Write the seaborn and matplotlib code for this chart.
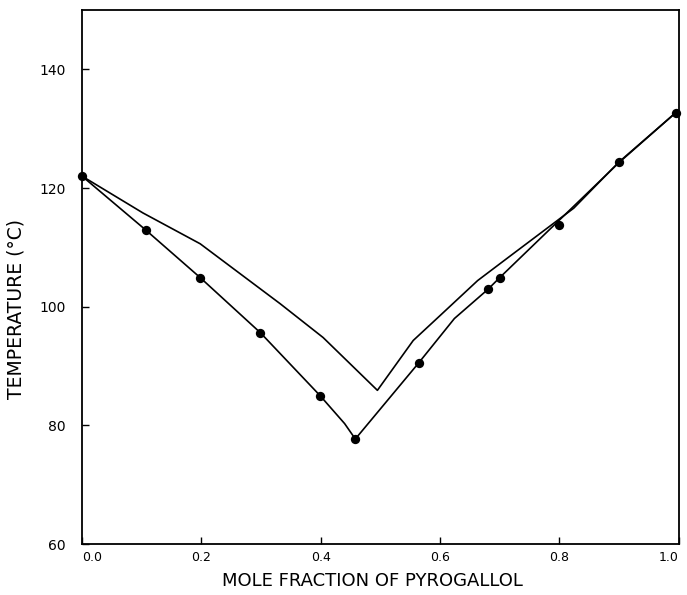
import matplotlib
matplotlib.use("Agg")
import matplotlib.pyplot as plt
import seaborn as sns
import pandas as pd

# Experimental points (mole fraction of pyrogallol, temperature °C)
pt_x = [0.0, 0.107, 0.198, 0.299, 0.399, 0.458, 0.564, 0.680, 0.700, 0.800, 0.900, 0.995]
pt_t = [122.0, 112.9, 104.9, 95.6, 85.0, 77.7, 90.5, 102.9, 104.9, 113.8, 124.3, 132.7]

# Lower curve drawn through the experimental points
low_x = [0.0, 0.107, 0.198, 0.299, 0.399, 0.440, 0.458, 0.564, 0.624, 0.680, 0.700, 0.800, 0.900, 0.995]
low_t = [122.0, 112.9, 104.9, 95.6, 85.0, 80.3, 77.7, 90.5, 98.0, 102.9, 104.9, 114.6, 124.3, 132.7]

# Upper (calculated) curve
up_x = [0.0, 0.102, 0.198, 0.332, 0.404, 0.495, 0.555, 0.600, 0.663, 0.713, 0.824, 0.900, 0.995]
up_t = [122.0, 115.8, 110.6, 100.5, 94.8, 85.9, 94.3, 98.5, 104.4, 108.2, 116.6, 124.4, 132.7]

x_ticks = [0.0, 0.2, 0.4, 0.6, 0.8, 1.0]
x_tick_labels = ["0.0", "0.2", "0.4", "0.6", "0.8", "1.0"]
y_ticks = [60, 80, 100, 120, 140]
y_tick_labels = ["60", "80", "100", "120", "140"]

sns.set_style("ticks")
plt.rcParams['font.family'] = ['DejaVu Sans']

fig = plt.figure(figsize=(6.87, 5.95), dpi=100)
ax = fig.add_axes([0.1194, 0.0857, 0.8686, 0.8975])

pts = pd.DataFrame({"x": pt_x, "t": pt_t})
low = pd.DataFrame({"x": low_x, "t": low_t})
up = pd.DataFrame({"x": up_x, "t": up_t})

sns.lineplot(data=up, x="x", y="t", sort=False, color="black", linewidth=1.2, ax=ax, estimator=None)
sns.lineplot(data=low, x="x", y="t", sort=False, color="black", linewidth=1.2, ax=ax, estimator=None)
sns.scatterplot(data=pts, x="x", y="t", color="black", s=45, edgecolor="black", linewidth=0, ax=ax, zorder=5, clip_on=False)

ax.set_xlim(0.0, 1.0)
ax.set_ylim(60, 150)
ax.set_xticks(x_ticks)
ax.set_xticklabels(x_tick_labels, fontsize=9)
ax.set_yticks(y_ticks)
ax.set_yticklabels(y_tick_labels, fontsize=10)
ax.tick_params(direction="in", length=5, width=1, colors="black")
ax.tick_params(axis="x", pad=5)
ax.tick_params(axis="y", pad=12)
labels = ax.get_xticklabels()
labels[-1].set_horizontalalignment("right")
labels[0].set_horizontalalignment("left")
for s in ax.spines.values():
    s.set_linewidth(1.3)
    s.set_color("black")
    s.set_visible(True)

ax.set_xlabel("MOLE FRACTION OF PYROGALLOL", fontsize=13, color="black")
ax.xaxis.set_label_coords(0.486, -0.052, transform=ax.transAxes)
ax.set_ylabel("TEMPERATURE (°C)", fontsize=13.5, color="black")
ax.yaxis.set_label_coords(-0.095, 0.44, transform=ax.transAxes)

fig.savefig("out.png", dpi=100)
